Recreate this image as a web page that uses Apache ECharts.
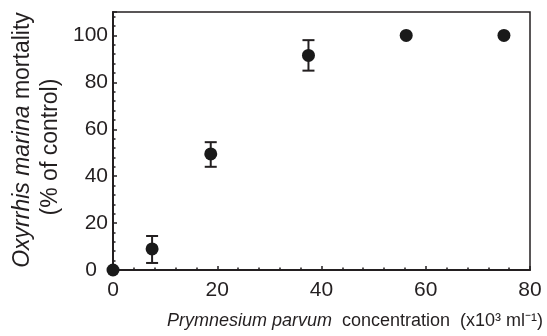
<!DOCTYPE html>
<html>
<head>
<meta charset="utf-8">
<script src="https://cdn.jsdelivr.net/npm/echarts@6/dist/echarts.min.js"></script>
<style>
  html, body { margin: 0; padding: 0; background: #fff; }
  #chart { width: 547px; height: 336px; }
</style>
</head>
<body>
<div id="chart"></div>
<script>
// Prymnesium parvum concentration (x10^3 cells per ml)
const concentration = [0, 7.5, 18.75, 37.5, 56.25, 75];
// Oxyrrhis marina mortality, % of control
const mortality = [0, 9, 49.5, 91.5, 100, 100];
// Error bar ends (low, high); null where no bar is drawn
const errLow = [null, 3, 44, 85, null, null];
const errHigh = [null, 14.5, 54.5, 98, null, null];

const INK = '#231f20';
const FONT = '"Liberation Sans", Arial, Helvetica, sans-serif';

const points = concentration.map((x, i) => [x, mortality[i]]);
const bars = [];
concentration.forEach((x, i) => {
  if (errLow[i] !== null) bars.push([x, errLow[i], errHigh[i]]);
});

const chart = echarts.init(document.getElementById('chart'), null, { renderer: 'canvas' });

chart.setOption({
  animation: false,
  backgroundColor: '#fff',
  grid: {
    left: 113, right: 17, top: 12, bottom: 66,
    show: true, borderColor: INK, borderWidth: 1.5
  },
  xAxis: {
    type: 'value', min: 0, max: 80, interval: 20,
    axisLine: { show: true, onZero: false, lineStyle: { color: INK, width: 2 } },
    axisTick: { show: true, inside: true, length: 4, lineStyle: { color: INK, width: 1.5 } },
    minorTick: { show: true, splitNumber: 5, length: 2.5, lineStyle: { color: INK, width: 1.5 } },
    splitLine: { show: false },
    axisLabel: { color: INK, fontFamily: FONT, fontSize: 21, margin: 10 }
  },
  yAxis: {
    type: 'value', min: 0, max: 110, interval: 20,
    axisLine: { show: true, onZero: false, lineStyle: { color: INK, width: 2 } },
    axisTick: { show: true, inside: true, length: 4, lineStyle: { color: INK, width: 1.5 } },
    minorTick: { show: true, splitNumber: 5, length: 2.5, lineStyle: { color: INK, width: 1.5 } },
    splitLine: { show: false },
    axisLabel: {
      color: INK, fontFamily: FONT, fontSize: 21, margin: 5, showMaxLabel: false,
      // the zero label sits a little left, clear of the origin marker
      formatter: function (v) { return v === 0 ? '{z|0}' : String(v); },
      rich: { z: { fontSize: 21, fontFamily: FONT, color: INK, padding: [0, 11, 0, 0] } }
    }
  },
  series: [
    {
      type: 'custom',
      data: bars,
      clip: false,
      z: 3,
      renderItem: function (params, api) {
        const x = api.value(0);
        const lo = api.coord([x, api.value(1)]);
        const hi = api.coord([x, api.value(2)]);
        const cap = 6;
        const style = { stroke: INK, lineWidth: 2 };
        return {
          type: 'group',
          children: [
            { type: 'line', shape: { x1: lo[0], y1: lo[1], x2: hi[0], y2: hi[1] }, style: style },
            { type: 'line', shape: { x1: lo[0] - cap, y1: lo[1], x2: lo[0] + cap, y2: lo[1] }, style: style },
            { type: 'line', shape: { x1: hi[0] - cap, y1: hi[1], x2: hi[0] + cap, y2: hi[1] }, style: style }
          ]
        };
      }
    },
    {
      type: 'scatter',
      data: points,
      clip: false,
      z: 4,
      symbol: 'circle',
      symbolSize: 13,
      itemStyle: { color: '#1a1a1a', opacity: 1 }
    }
  ],
  graphic: [
    {
      type: 'text',
      x: 23, y: 140,
      rotation: Math.PI / 2,
      style: {
        text: '{i|Oxyrrhis marina} mortality',
        fill: INK,
        font: '23px ' + FONT,
        align: 'center',
        verticalAlign: 'middle',
        rich: { i: { fontStyle: 'italic', fontSize: 23, fontFamily: FONT, fill: INK } }
      }
    },
    {
      type: 'text',
      x: 51, y: 147,
      rotation: Math.PI / 2,
      style: {
        text: '(% of control)',
        fill: INK,
        font: '23px ' + FONT,
        align: 'center',
        verticalAlign: 'middle'
      }
    },
    {
      type: 'text',
      x: 355, y: 321,
      style: {
        text: '{i|Prymnesium parvum}  concentration  (x10³ ml⁻¹)',
        fill: INK,
        font: '18px ' + FONT,
        align: 'center',
        verticalAlign: 'middle',
        rich: { i: { fontStyle: 'italic', fontSize: 18, fontFamily: FONT, fill: INK } }
      }
    }
  ]
});
</script>
</body>
</html>
